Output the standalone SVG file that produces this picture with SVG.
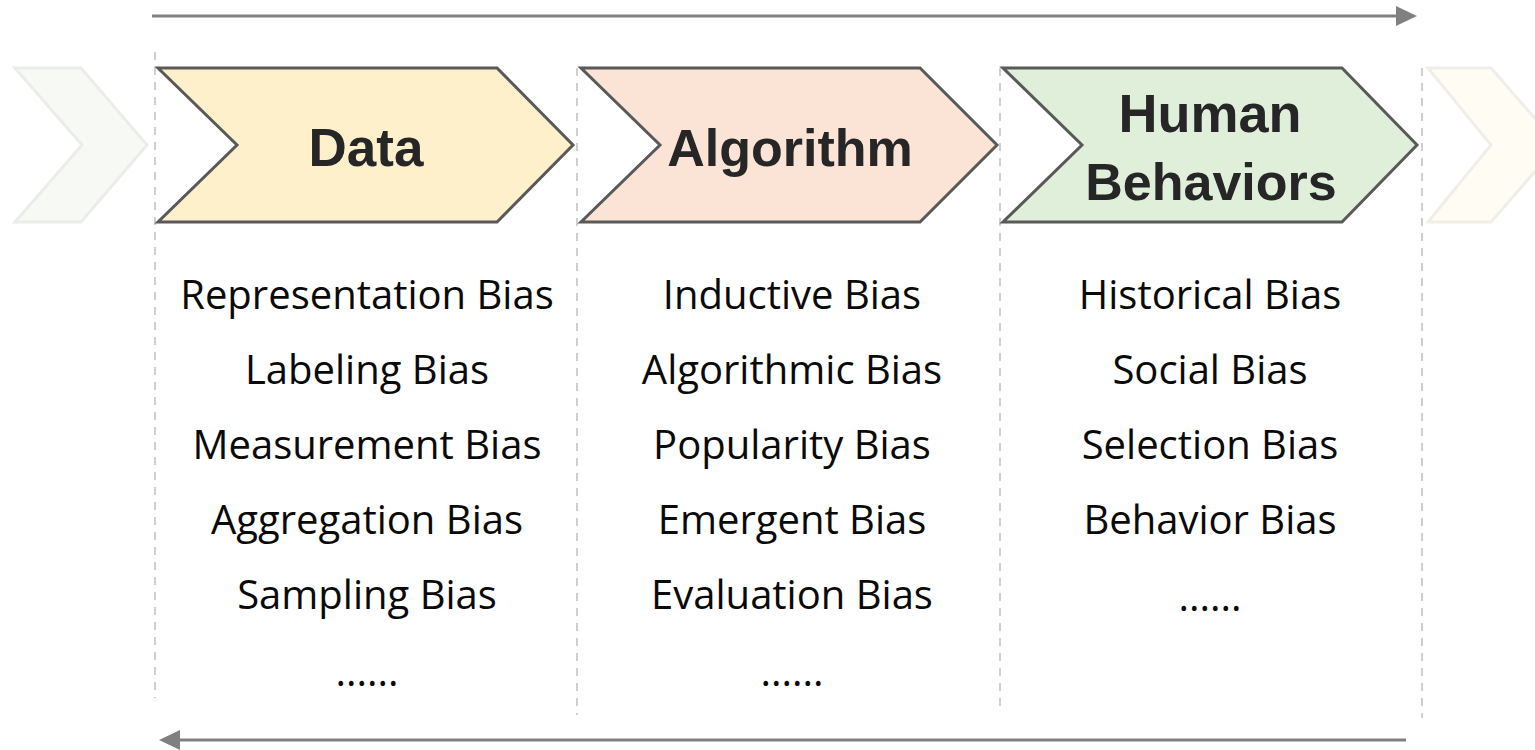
<svg xmlns="http://www.w3.org/2000/svg" width="1535" height="750" viewBox="0 0 1535 750">
<style>
.arrow{stroke:#808080;stroke-width:3;fill:none}
.head{fill:#808080}
.sep{stroke:#cfcfcf;stroke-width:2;stroke-dasharray:8 7;fill:none}
.chev{stroke:#595959;stroke-width:3;stroke-linejoin:miter}
.title{font-family:"Liberation Sans","Noto Sans",sans-serif;font-weight:bold;font-size:52px;fill:#262626;text-anchor:middle}
.item{font-family:"Open Sans","Noto Sans",sans-serif;font-size:40px;fill:#0a0a0a;text-anchor:middle}
</style>
<rect width="1535" height="750" fill="#fff"/>
<g id="connectors">
<line class="arrow" x1="152" y1="16" x2="1400" y2="16"/>
<polygon class="head" points="1396,6 1417,16 1396,26"/>
<line class="arrow" x1="1406" y1="740" x2="176" y2="740"/>
<polygon class="head" points="180,730 159,740 180,750"/>
</g>
<g id="separators">
<line class="sep" x1="155" y1="52" x2="155" y2="698"/>
<line class="sep" x1="577" y1="68" x2="577" y2="715"/>
<line class="sep" x1="1000" y1="68" x2="1000" y2="713"/>
<line class="sep" x1="1422" y1="68" x2="1422" y2="718"/>
</g>
<g id="faded-left">
<polygon points="15,68 81,68 147,145 81,222 15,222 82,145" fill="#f7f9f4" stroke="#ecedea" stroke-width="3"/>
</g>
<g id="faded-right">
<polygon points="1428,68 1491,68 1558,145 1491,222 1428,222 1491,145" fill="#fffcf4" stroke="#f0eee8" stroke-width="3"/>
</g>
<g id="node-data">
<polygon class="chev" points="158,68 497,68 573,145 497,222 158,222 237,145" fill="#fff0cc"/>
<text class="title" x="366" y="166" style="font-size:53px">Data</text>
</g>
<g id="node-algorithm">
<polygon class="chev" points="581,68 920,68 997,145 920,222 581,222 660,145" fill="#fbe3d6"/>
<text class="title" x="790" y="166">Algorithm</text>
</g>
<g id="node-human">
<polygon class="chev" points="1003,68 1342,68 1417,145 1342,222 1003,222 1082,145" fill="#e0efda"/>
<text class="title" x="1210" y="132" style="font-size:54px">Human</text>
<text class="title" x="1211" y="200">Behaviors</text>
</g>
<g id="list-data">
<text class="item" x="367" y="309">Representation Bias</text>
<text class="item" x="367" y="384">Labeling Bias</text>
<text class="item" x="367" y="459">Measurement Bias</text>
<text class="item" x="367" y="534">Aggregation Bias</text>
<text class="item" x="367" y="609">Sampling Bias</text>
<text class="item" x="367" y="686">......</text>
</g>
<g id="list-algorithm">
<text class="item" x="792" y="309">Inductive Bias</text>
<text class="item" x="792" y="384">Algorithmic Bias</text>
<text class="item" x="792" y="459">Popularity Bias</text>
<text class="item" x="792" y="534">Emergent Bias</text>
<text class="item" x="792" y="609">Evaluation Bias</text>
<text class="item" x="792" y="686">......</text>
</g>
<g id="list-human">
<text class="item" x="1210" y="309">Historical Bias</text>
<text class="item" x="1210" y="384">Social Bias</text>
<text class="item" x="1210" y="459">Selection Bias</text>
<text class="item" x="1210" y="534">Behavior Bias</text>
<text class="item" x="1210" y="611">......</text>
</g>
</svg>
